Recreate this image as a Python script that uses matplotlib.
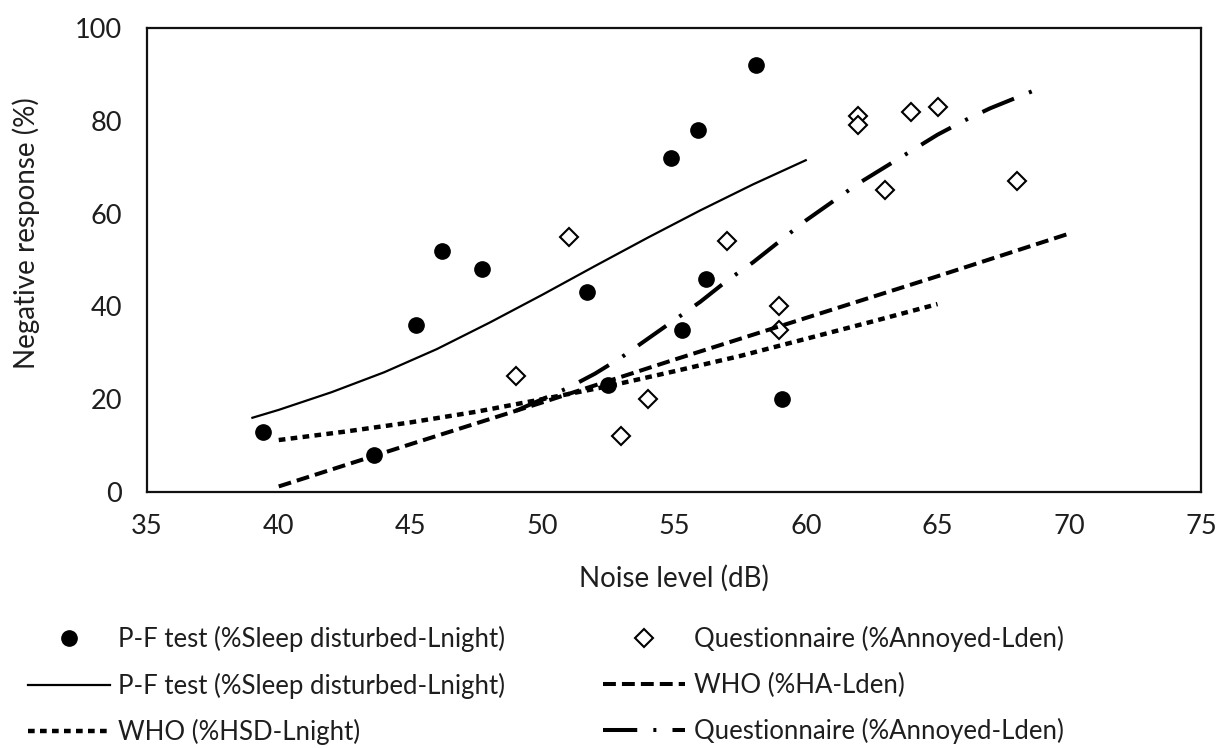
import matplotlib
matplotlib.use("Agg")
import matplotlib.pyplot as plt

# measured points
pf_x = [39.4, 43.6, 45.2, 46.2, 47.7, 51.7, 52.5, 54.9, 55.3, 55.9, 56.2, 58.1, 59.1]
pf_y = [13, 8, 36, 52, 48, 43, 23, 72, 35, 78, 46, 92, 20]

q_x = [49, 51, 53, 54, 57, 59, 59, 62, 62, 63, 64, 65, 68]
q_y = [25, 55, 12, 20, 54, 40, 35, 81, 79, 65, 82, 83, 67]

# fitted / reference curves
pf_fit_x = [39, 40, 42, 44, 46, 48, 50, 52, 54, 56, 58, 60]
pf_fit_y = [16, 17.7, 21.5, 25.8, 30.8, 36.5, 42.5, 48.7, 54.8, 60.7, 66.3, 71.5]

who_ha_x = [40, 45, 50, 55, 60, 65, 70]
who_ha_y = [1.2, 10.3, 19.3, 28.5, 37.5, 46.5, 55.7]

who_hsd_x = [40, 42.5, 45, 47.5, 50, 52.5, 55, 57.5, 60, 62.5, 65]
who_hsd_y = [11.2, 13, 15, 17.3, 20, 22.8, 26, 29.3, 33, 36.7, 40.5]

q_fit_x = [49, 50, 51, 52, 53, 54, 55, 56, 57, 58, 59, 60, 61, 62, 63, 64, 65, 66, 67, 68, 69]
q_fit_y = [17.5, 20, 22.5, 25.5, 29, 33, 37, 41, 45.5, 49.5, 54, 58.5, 62.5, 66.5, 70,
           73.5, 77, 80, 82.7, 85, 87.3]

x_ticks = [35, 40, 45, 50, 55, 60, 65, 70, 75]
y_ticks = [0, 20, 40, 60, 80, 100]

plt.rcParams["font.family"] = ["Lato", "DejaVu Sans"]
TEXT = "#1e1e1e"

fig = plt.figure(figsize=(12.18, 7.48), dpi=100)
W, H = 1218, 748
ax = fig.add_axes([147 / W, 1 - 492 / H, (1201 - 147) / W, (492 - 28) / H])

h_pf, = ax.plot(pf_x, pf_y, linestyle="none", marker="o", markersize=11,
                color="black", zorder=3)
h_q, = ax.plot(q_x, q_y, linestyle="none", marker="D", markersize=9,
               markerfacecolor="white", markeredgecolor="black",
               markeredgewidth=1.5, zorder=3)

h_pf_fit, = ax.plot(pf_fit_x, pf_fit_y, color="black", linewidth=1.6, zorder=4)
h_who_ha, = ax.plot(who_ha_x, who_ha_y, color="black", linewidth=2.9,
                    linestyle=(0, (3.2, 1.5)), dash_capstyle="butt", zorder=4)
h_who_hsd, = ax.plot(who_hsd_x, who_hsd_y, color="black", linewidth=3.2,
                     linestyle=(0, (1.5, 1.2)), dash_capstyle="butt", zorder=4)
h_q_fit, = ax.plot(q_fit_x, q_fit_y, color="black", linewidth=2.9,
                   linestyle=(0, (8.5, 4, 0.75, 4)), dash_capstyle="butt", zorder=4)

ax.set_xlim(35, 75)
ax.set_ylim(0, 100)
ax.set_xticks(x_ticks)
ax.set_yticks(y_ticks)
ax.tick_params(axis="both", length=0, labelsize=19.5, colors=TEXT)
ax.tick_params(axis="x", pad=16)
ax.tick_params(axis="y", pad=18)
for sp in ax.spines.values():
    sp.set_linewidth(1.6)
    sp.set_color("#111111")

ax.set_xlabel("Noise level (dB)", fontsize=20, color=TEXT, va="center")
ax.xaxis.set_label_coords(0.5, (492 - 578) / 464)
ax.set_ylabel("Negative response (%)", fontsize=20, color=TEXT, va="center")
ax.yaxis.set_label_coords((26 - 147) / 1054, (492 - 233) / 464)

handles = [h_pf, h_pf_fit, h_who_hsd, h_q, h_who_ha, h_q_fit]
labels = ["P-F test (%Sleep disturbed-Lnight)",
          "P-F test (%Sleep disturbed-Lnight)",
          "WHO (%HSD-Lnight)",
          "Questionnaire (%Annoyed-Lden)",
          "WHO (%HA-Lden)",
          "Questionnaire (%Annoyed-Lden)"]
leg = fig.legend(handles, labels, ncol=2, loc="upper left",
                 bbox_to_anchor=(28 / W, 1 - 626 / H), frameon=False,
                 fontsize=18.5, borderpad=0, borderaxespad=0,
                 handlelength=3.2, handletextpad=0.32, columnspacing=3.8,
                 labelspacing=0.8, labelcolor=TEXT)

fig.savefig("out.png", dpi=100)
